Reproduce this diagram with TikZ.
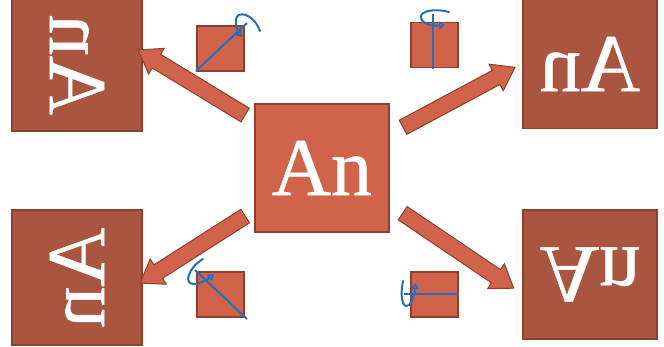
\documentclass[tikz,border=0pt]{standalone}
\usepackage{fontspec}
\setmainfont{Liberation Serif}
\newfontfamily\tilefont{Liberation Serif}[FakeBold=0.6]
\usetikzlibrary{shapes.arrows,calc,arrows.meta}

\definecolor{boxlight}{HTML}{D0634A}
\definecolor{boxdark}{HTML}{A9553F}
\definecolor{boxedge}{HTML}{8E3F2E}
\definecolor{axisblue}{HTML}{1F70C1}

\tikzset{
  letterbox/.style={draw=boxedge, line width=1.2pt, inner sep=0pt, text=white,
    font=\tilefont\fontsize{82}{82}\selectfont},
  mirrorbox/.style={letterbox, fill=boxdark},
  tinybox/.style={draw=boxedge, line width=1.1pt, fill=boxlight, inner sep=0pt,
    minimum width=47pt, minimum height=45pt},
  bigarrow/.style={single arrow, draw=boxedge, line width=1pt, fill=boxlight,
    inner sep=7.5pt, minimum width=29pt, single arrow tip angle=70,
    single arrow head extend=7pt, outer sep=0pt},
  axisline/.style={draw=axisblue, line width=2pt},
  curl/.style={draw=axisblue, line width=2pt, line cap=round,
    -{Triangle[open, length=6pt, width=8pt, line width=1.6pt]}}
}

% thick block arrow from one named point to another
\newcommand\blockarrow[3]{%
  \path let \p1=($(#3)-(#2)$), \n1={atan2(\y1,\x1)}, \n2={veclen(\x1,\y1)} in
    node[bigarrow, minimum height=\n2, rotate=\n1] (#1) at ($(#2)!0.5!(#3)$) {};}

\begin{document}
\begin{tikzpicture}[x=1pt, y=-1pt]
\useasboundingbox (0,0) rectangle (664,346);

% central tile
\node[letterbox, fill=boxlight, minimum width=134pt, minimum height=128pt] (center) at (322,168) {An};

% four flipped copies (mirrored across the diagonals, the vertical and the horizontal)
\node[mirrorbox, minimum width=132pt, minimum height=130pt, cm={0,1,1,0,(0,0)}] (tl) at (77,65) {An};
\node[mirrorbox, minimum width=134pt, minimum height=129pt, xscale=-1] (tr) at (590,64) {An};
\node[mirrorbox, minimum width=135pt, minimum height=130pt, cm={0,-1,-1,0,(0,0)}] (bl) at (77,277.5) {An};
\node[mirrorbox, minimum width=134pt, minimum height=129pt, yscale=-1] (br) at (590,274.5) {An};

% block arrows
\coordinate (a1s) at (250,118); \coordinate (a1e) at (143,53);
\coordinate (a2s) at (398,130); \coordinate (a2e) at (510,70);
\coordinate (a3s) at (250,213); \coordinate (a3e) at (145,280);
\coordinate (a4s) at (398,210); \coordinate (a4e) at (509,285);
\blockarrow{arr1}{a1s}{a1e}
\blockarrow{arr2}{a2s}{a2e}
\blockarrow{arr3}{a3s}{a3e}
\blockarrow{arr4}{a4s}{a4e}

% small tiles with their rotation axes
\node[tinybox] (s1) at (220.5,48.5) {};
\node[tinybox] (s2) at (434.5,45) {};
\node[tinybox] (s3) at (220.5,294.5) {};
\node[tinybox] (s4) at (434.5,294.5) {};

\coordinate (x1a) at (196,71);  \coordinate (x1b) at (247,23);
\coordinate (x2a) at (433,14);  \coordinate (x2b) at (433,69);
\coordinate (x3a) at (195,270); \coordinate (x3b) at (247,319);
\coordinate (x4a) at (404,294); \coordinate (x4b) at (459,294);
\draw[axisline] (x1a) -- (x1b);
\draw[axisline] (x2a) -- (x2b);
\draw[axisline] (x3a) -- (x3b);
\draw[axisline] (x4a) -- (x4b);

% rotation arrows around each axis
\draw[curl] (260,31) .. controls (253,12) and (235,10) .. (236,21) .. controls (236,28) and (238,32) .. (242,37);
\draw[curl] (449,12) .. controls (435,8) and (419,11) .. (421,18) .. controls (423,25) and (434,26) .. (445,25);
\draw[curl] (203,259) .. controls (189,267) and (182,285) .. (195,284) .. controls (202,283) and (208,279) .. (214,274);
\draw[curl] (403,281) .. controls (400,295) and (402,310) .. (409,305) .. controls (413,301) and (415,292) .. (415,283);
\end{tikzpicture}
\end{document}
